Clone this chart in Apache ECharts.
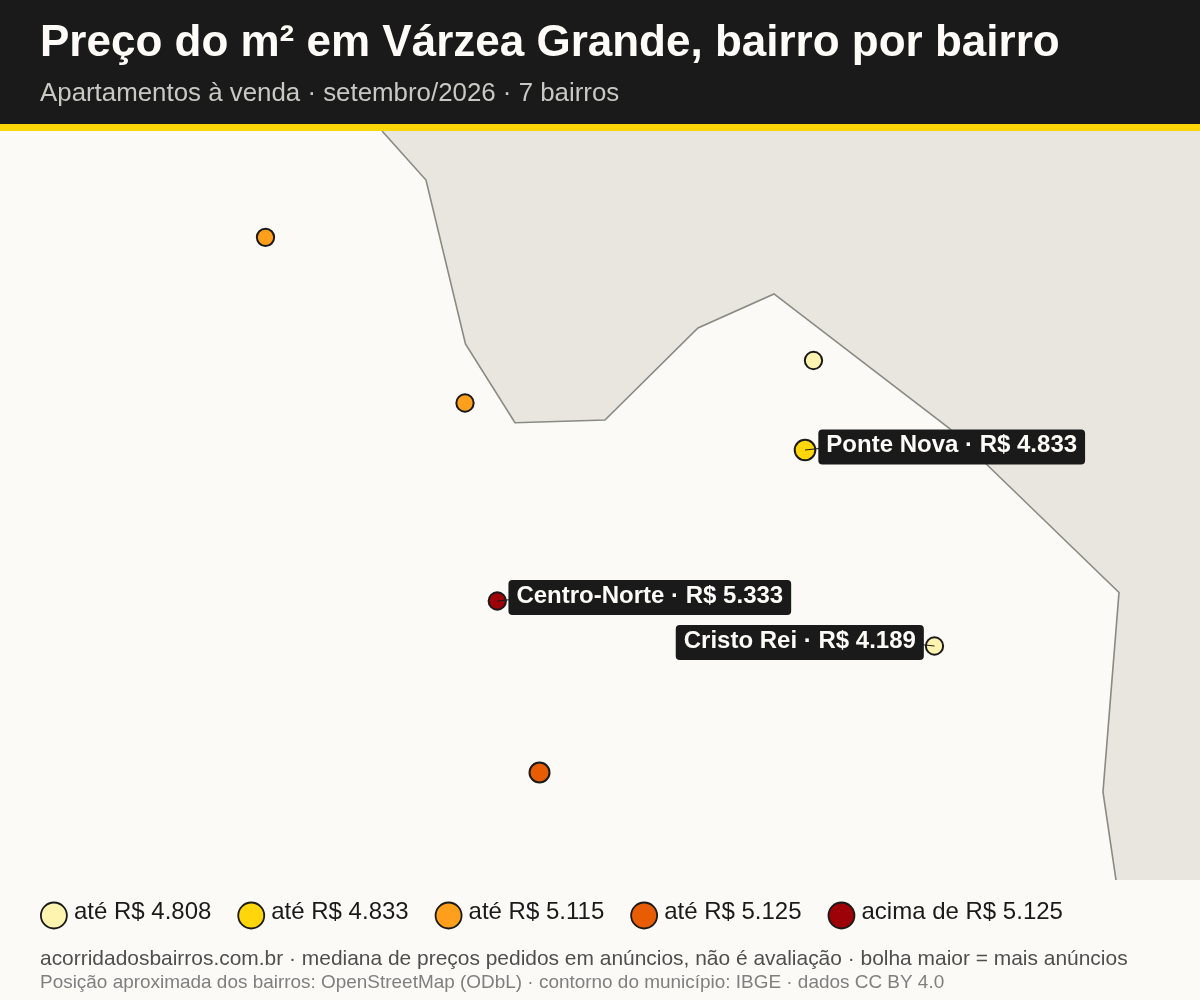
<!DOCTYPE html>
<html lang="pt-BR">

<head>
    <meta charset="UTF-8">
    <title>Preço do m² em Várzea Grande</title>
    <style>
        html, body {
            margin: 0;
            background: #fbfaf6;
        }

        #mapa {
            width: 1200px;
            height: 1000px;
        }
    </style>
    <script src="https://cdn.jsdelivr.net/npm/echarts@6/dist/echarts.min.js"></script>
</head>

<body>
    <div id="mapa"></div>
    <script>
        // bairros
        var bairros = ['', '', '', 'Ponte Nova', 'Centro-Norte', 'Cristo Rei', ''];
        var lon = [-56.19575, -56.1625, -56.10442, -56.10583, -56.15712, -56.08425, -56.15008];
        var lat = [-15.59774, -15.62539, -15.6183, -15.63324, -15.65844, -15.66595, -15.68706];
        var preco = [5115, 5020, 4808, 4833, 5333, 4189, 5125];
        var anuncios = [12, 12, 12, 17, 12, 12, 16];

        // faixas da legenda
        var faixas = [4808, 4833, 5115, 5125, Infinity];
        var faixaNomes = ['até R$ 4.808', 'até R$ 4.833', 'até R$ 5.115', 'até R$ 5.125', 'acima de R$ 5.125'];
        var faixaCores = ['#fff3b0', '#ffd60a', '#ff9f1c', '#e85d04', '#9d0208'];

        // contorno do município
        var contornoLon = [-56.17633, -56.169, -56.16242, -56.15417, -56.13917, -56.12367, -56.111, -56.08183, -56.0535, -56.05617, -56.054];
        var contornoLat = [-15.58, -15.58818, -15.61555, -15.62868, -15.62823, -15.61288, -15.6072, -15.62957, -15.65702, -15.69031, -15.705];

        var LON_MIN = -56.24, LON_MAX = -56.04, LAT_MIN = -15.705, LAT_MAX = -15.58;

        // deslocamento do rótulo em px
        var rotulos = {
            'Ponte Nova': { position: 'right', offset: [-1, -3] },
            'Centro-Norte': { position: 'right', offset: [-1.5, -3.5] },
            'Cristo Rei': { position: 'left', offset: [2, -3.5] }
        };

        function fmtPreco(v) {
            return 'R$ ' + String(v).replace(/(\d)(\d{3})$/, '$1.$2');
        }

        function faixaDe(v) {
            for (var i = 0; i < faixas.length; i++) {
                if (v <= faixas[i]) return i;
            }
        }

        function tamanho(n) {
            return 5 * Math.sqrt(n);
        }

        var myChart = echarts.init(document.getElementById('mapa'));

        var series = [];

        // fora do município + linha do contorno
        series.push({
            type: 'custom',
            silent: true,
            coordinateSystem: 'cartesian2d',
            clip: true,
            z: 1,
            data: [0],
            renderItem: function(params, api) {
                var linha = contornoLon.map(function(x, i) {
                    return api.coord([x, contornoLat[i]]);
                });
                var fundo = linha.concat([api.coord([LON_MAX, LAT_MIN]), api.coord([LON_MAX, LAT_MAX])]);
                return {
                    type: 'group',
                    children: [{
                        type: 'polygon',
                        shape: { points: fundo },
                        style: { fill: '#e9e6df', stroke: null }
                    }, {
                        type: 'polyline',
                        shape: { points: linha },
                        style: { fill: null, stroke: '#8a8a84', lineWidth: 1.6 }
                    }]
                };
            }
        });

        faixaNomes.forEach(function(nome, f) {
            var dados = [];
            lon.forEach(function(x, i) {
                if (faixaDe(preco[i]) === f) {
                    dados.push({ value: [x, lat[i]], name: bairros[i], preco: preco[i], n: anuncios[i] });
                }
            });
            series.push({
                name: nome,
                type: 'scatter',
                z: 3,
                silent: true,
                itemStyle: {
                    color: faixaCores[f],
                    borderColor: '#1a1a1a',
                    borderWidth: 2,
                    opacity: 1
                },
                symbolSize: function(v, p) {
                    return tamanho(p.data.n);
                },
                data: dados.map(function(d) {
                    var r = rotulos[d.name];
                    if (!r) return d;
                    d.label = {
                        show: true,
                        position: r.position,
                        offset: r.offset,
                        distance: 3,
                        formatter: '{t|' + d.name + ' · ' + fmtPreco(d.preco) + '}',
                        backgroundColor: '#1a1a1a',
                        borderRadius: 4,
                        padding: [2.5, 8, 5.5, 8],
                        rich: {
                            t: {
                                color: '#fcfbf7',
                                fontFamily: 'Liberation Sans',
                                fontWeight: 'bold',
                                fontSize: 24,
                                lineHeight: 27
                            }
                        }
                    };
                    return d;
                })
            });
        });

        // fio entre a bolha e o rótulo
        series.push({
            type: 'custom',
            silent: true,
            coordinateSystem: 'cartesian2d',
            z: 4,
            data: [3, 4, 5],
            encode: { x: -1, y: -1 },
            renderItem: function(params, api) {
                var i = api.value(0);
                var c = api.coord([lon[i], lat[i]]);
                var lado = rotulos[bairros[i]].position === 'left' ? -1 : 1;
                return {
                    type: 'line',
                    shape: { x1: c[0], y1: c[1], x2: c[0] + lado * 14, y2: c[1] - 1.5 },
                    style: { stroke: '#1a1a1a', lineWidth: 1 }
                };
            }
        });

        var option = {
            animation: false,
            backgroundColor: '#fbfaf6',
            textStyle: { fontFamily: 'Liberation Sans' },
            title: [{
                text: 'Preço do m² em Várzea Grande, bairro por bairro',
                left: 40,
                top: 22,
                padding: 0,
                textStyle: { color: '#fcfbf7', fontSize: 44, fontWeight: 'bold', fontFamily: 'Liberation Sans' }
            }, {
                text: 'Apartamentos à venda · setembro/2026 · 7 bairros',
                left: 40,
                top: 81,
                padding: 0,
                textStyle: { color: '#c8c8c4', fontSize: 25.87, fontWeight: 'normal', fontFamily: 'Liberation Sans' }
            }, {
                text: 'acorridadosbairros.com.br · mediana de preços pedidos em anúncios, não é avaliação · bolha maior = mais anúncios',
                left: 40,
                top: 949,
                padding: 0,
                textStyle: { color: '#4f4f4f', fontSize: 20.95, fontWeight: 'normal', fontFamily: 'Liberation Sans' }
            }, {
                text: 'Posição aproximada dos bairros: OpenStreetMap (ODbL) · contorno do município: IBGE · dados CC BY 4.0',
                left: 40,
                top: 973,
                padding: 0,
                textStyle: { color: '#7f7f7f', fontSize: 18.94, fontWeight: 'normal', fontFamily: 'Liberation Sans' }
            }],
            graphic: [{
                type: 'rect',
                z: -1,
                shape: { x: 0, y: 0, width: 1200, height: 124 },
                style: { fill: '#1a1a1a' }
            }, {
                type: 'rect',
                z: -1,
                shape: { x: 0, y: 124, width: 1200, height: 7 },
                style: { fill: '#ffd60a' }
            }],
            legend: {
                left: 40,
                top: 900,
                padding: 0,
                itemWidth: 26,
                itemHeight: 26,
                itemGap: 26,
                icon: 'circle',
                selectedMode: false,
                data: faixaNomes,
                itemStyle: { borderColor: '#1a1a1a', borderWidth: 1.8 },
                formatter: '{t|{name}}',
                textStyle: {
                    rich: {
                        t: {
                            color: '#1a1a1a',
                            fontSize: 24,
                            fontFamily: 'Liberation Sans',
                            padding: [0, 0, 7, 2]
                        }
                    }
                }
            },
            grid: { left: 0, right: 0, top: 131, bottom: 120 },
            xAxis: { type: 'value', min: LON_MIN, max: LON_MAX, show: false },
            yAxis: { type: 'value', min: LAT_MIN, max: LAT_MAX, show: false },
            series: series
        };
        myChart.setOption(option);
    </script>
</body>

</html>
